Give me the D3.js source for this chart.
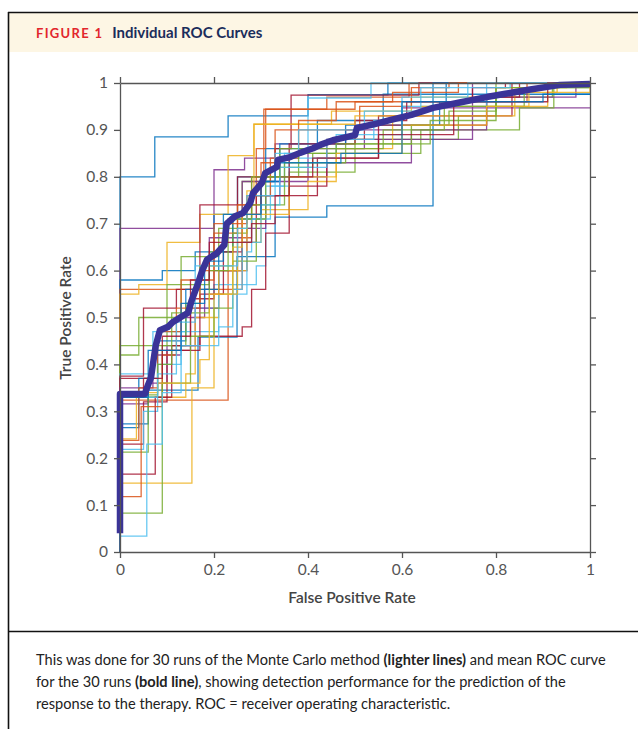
<!DOCTYPE html>
<html><head><meta charset="utf-8">
<script src="https://cdn.jsdelivr.net/npm/d3@7"></script>
<style>
html,body{margin:0;padding:0;background:#fff;}
svg{display:block;}
</style></head>
<body>
<svg id="chart" width="638" height="729"></svg>
<script>
// ---------- DATA ----------
const title = "Individual ROC Curves";
const figLabel = "FIGURE 1";
const xLabel = "False Positive Rate";
const yLabel = "True Positive Rate";
const xTicks = [0, 0.2, 0.4, 0.6, 0.8, 1];
const yTicks = [0, 0.1, 0.2, 0.3, 0.4, 0.5, 0.6, 0.7, 0.8, 0.9, 1];
const runColors = ["#0072BD","#7E2F8E","#0072BD","#D95319","#EDB120","#77AC30","#77AC30","#4DBEEE","#A2142F","#A2142F",
  "#7E2F8E","#D95319","#7E2F8E","#0072BD","#0072BD","#EDB120","#D95319","#A2142F","#4DBEEE","#77AC30",
  "#A2142F","#EDB120","#D95319","#77AC30","#4DBEEE","#77AC30","#EDB120","#4DBEEE","#A2142F","#0072BD"];
// each run: [fpr, tpr] points where TPR steps up
const runs = [
 [[0,0.80],[0.074,0.885],[0.23,0.93],[0.40,0.975],[0.57,1],[1,1]],
 [[0,0.69],[0.20,0.815],[0.265,0.84],[0.33,0.87],[0.48,0.90],[0.60,0.947],[1,0.947]],
 [[0,0.58],[0.09,0.60],[0.16,0.64],[0.20,0.72],[0.25,0.80],[0.31,0.86],[0.42,0.92],[0.56,0.976],[1,0.976]],
 [[0,0.56],[0.23,0.60],[0.25,0.74],[0.29,0.86],[0.31,0.944],[0.44,0.97],[0.615,1],[1,1]],
 [[0,0.55],[0.04,0.57],[0.10,0.66],[0.17,0.72],[0.23,0.845],[0.285,0.912],[0.45,0.94],[0.62,0.97],[0.80,0.99],[0.92,1],[1,1]],
 [[0,0.44],[0.10,0.57],[0.19,0.64],[0.24,0.72],[0.26,0.79],[0.32,0.82],[0.41,0.85],[0.64,0.90],[0.85,0.947],[0.923,1],[1,1]],
 [[0,0.42],[0.04,0.50],[0.13,0.63],[0.21,0.69],[0.28,0.76],[0.36,0.81],[0.50,0.88],[0.72,0.93],[0.80,0.97],[0.92,1],[1,1]],
 [[0,0.38],[0.07,0.47],[0.14,0.52],[0.20,0.57],[0.29,0.61],[0.31,0.78],[0.35,0.85],[0.40,0.968],[0.534,1],[1,1]],
 [[0,0.375],[0.05,0.52],[0.12,0.56],[0.17,0.74],[0.25,0.80],[0.33,0.86],[0.364,0.974],[0.636,1],[1,1]],
 [[0,0.37],[0.07,0.43],[0.15,0.54],[0.20,0.60],[0.26,0.66],[0.29,0.76],[0.42,0.84],[0.55,0.93],[0.834,1],[1,1]],
 [[0,0.35],[0.07,0.42],[0.13,0.50],[0.18,0.56],[0.19,0.67],[0.26,0.79],[0.40,0.86],[0.52,0.88],[0.75,1],[1,1]],
 [[0,0.324],[0.23,0.56],[0.26,0.67],[0.28,0.80],[0.306,0.944],[0.50,0.96],[0.866,1],[1,1]],
 [[0,0.316],[0.06,0.36],[0.10,0.44],[0.16,0.52],[0.21,0.60],[0.27,0.69],[0.31,0.76],[0.34,0.80],[0.44,0.83],[0.62,0.90],[0.78,0.97],[0.97,1],[1,1]],
 [[0,0.273],[0.06,0.345],[0.166,0.458],[0.249,0.63],[0.33,0.714],[0.44,0.738],[0.666,1],[1,1]],
 [[0,0.265],[0.04,0.37],[0.08,0.45],[0.14,0.56],[0.21,0.64],[0.24,0.71],[0.30,0.79],[0.34,0.87],[0.48,0.91],[0.68,0.96],[0.694,1],[1,1]],
 [[0,0.241],[0.035,0.33],[0.14,0.38],[0.16,0.50],[0.21,0.60],[0.27,0.66],[0.30,0.73],[0.40,0.79],[0.46,0.86],[0.58,0.93],[0.84,0.98],[0.93,1],[1,1]],
 [[0,0.238],[0.04,0.35],[0.08,0.47],[0.13,0.58],[0.20,0.68],[0.25,0.74],[0.30,0.83],[0.33,0.90],[0.51,0.95],[0.62,0.99],[0.70,1],[1,1]],
 [[0,0.23],[0.05,0.32],[0.10,0.43],[0.17,0.46],[0.26,0.48],[0.28,0.56],[0.31,0.68],[0.36,0.78],[0.44,0.88],[0.52,0.91],[0.78,0.97],[0.85,1],[1,1]],
 [[0,0.219],[0.05,0.30],[0.08,0.40],[0.13,0.47],[0.21,0.55],[0.27,0.64],[0.28,0.71],[0.32,0.78],[0.36,0.84],[0.46,0.89],[0.60,0.95],[0.78,1],[1,1]],
 [[0,0.213],[0.06,0.33],[0.09,0.44],[0.14,0.53],[0.17,0.61],[0.24,0.68],[0.27,0.74],[0.35,0.83],[0.48,0.87],[0.66,0.92],[0.80,1],[1,1]],
 [[0,0.166],[0.075,0.33],[0.11,0.44],[0.17,0.55],[0.22,0.64],[0.26,0.72],[0.30,0.80],[0.36,0.87],[0.50,0.92],[0.61,0.96],[0.75,0.99],[0.82,1],[1,1]],
 [[0,0.147],[0.153,0.35],[0.20,0.55],[0.25,0.66],[0.27,0.77],[0.285,0.912],[0.50,0.93],[0.64,0.95],[0.87,0.99],[0.95,1],[1,1]],
 [[0,0.118],[0.045,0.31],[0.09,0.42],[0.12,0.52],[0.17,0.60],[0.20,0.70],[0.27,0.76],[0.32,0.84],[0.38,0.92],[0.46,0.96],[0.58,0.98],[0.72,1],[1,1]],
 [[0,0.083],[0.09,0.36],[0.15,0.46],[0.20,0.52],[0.24,0.62],[0.29,0.71],[0.31,0.80],[0.38,0.85],[0.46,0.87],[0.62,0.91],[0.70,0.94],[0.80,0.99],[1,1]],
 [[0,0.034],[0.057,0.23],[0.09,0.34],[0.13,0.44],[0.21,0.48],[0.24,0.56],[0.26,0.66],[0.30,0.74],[0.34,0.82],[0.44,0.88],[0.54,0.92],[0.60,0.97],[0.74,1],[1,1]],
 [[0,0.335],[0.08,0.40],[0.11,0.51],[0.19,0.60],[0.23,0.71],[0.28,0.80],[0.34,0.86],[0.56,0.90],[0.69,0.95],[0.86,0.99],[1,1]],
 [[0,0.34],[0.08,0.36],[0.17,0.41],[0.19,0.55],[0.24,0.65],[0.26,0.72],[0.36,0.80],[0.46,0.85],[0.60,0.91],[0.78,0.95],[0.91,0.98],[1,1]],
 [[0,0.33],[0.08,0.38],[0.12,0.49],[0.16,0.61],[0.25,0.69],[0.27,0.76],[0.33,0.85],[0.38,0.90],[0.52,0.94],[0.64,0.99],[0.83,1],[1,1]],
 [[0,0.33],[0.05,0.37],[0.09,0.46],[0.15,0.58],[0.19,0.66],[0.28,0.70],[0.33,0.76],[0.36,0.80],[0.41,0.84],[0.55,0.89],[0.71,0.96],[0.91,1],[1,1]],
 [[0,0.33],[0.06,0.43],[0.13,0.53],[0.18,0.62],[0.22,0.72],[0.30,0.79],[0.33,0.83],[0.47,0.85],[0.60,0.96],[0.90,0.976],[1,0.976]]
];
const meanCurve = [[0,0.04],[0,0.337],[0.053,0.337],[0.058,0.352],[0.066,0.372],[0.07,0.40],[0.076,0.44],[0.085,0.473],[0.102,0.48],
 [0.112,0.49],[0.128,0.50],[0.145,0.51],[0.152,0.535],[0.166,0.573],[0.175,0.60],[0.185,0.623],[0.206,0.637],[0.222,0.655],
 [0.227,0.70],[0.245,0.716],[0.262,0.723],[0.277,0.744],[0.283,0.765],[0.302,0.787],[0.309,0.808],[0.334,0.821],[0.336,0.836],
 [0.362,0.842],[0.383,0.851],[0.411,0.861],[0.426,0.868],[0.453,0.878],[0.474,0.883],[0.50,0.889],[0.504,0.904],[0.54,0.912],
 [0.574,0.921],[0.62,0.932],[0.666,0.947],[0.72,0.958],[0.78,0.97],[0.82,0.977],[0.866,0.985],[0.936,0.996],[1,0.998]];
const caption = [
 [["This was done for 30 runs of the Monte Carlo method ",false],["(lighter lines)",true],[" and mean ROC curve",false]],
 [["for the 30 runs ",false],["(bold line)",true],[", showing detection performance for the prediction of the",false]],
 [["response to the therapy. ROC = receiver operating characteristic.",false]]
];

// ---------- LAYOUT ----------
const svg = d3.select("#chart");
const font = "Lato, 'Open Sans', sans-serif";

// header
svg.append("rect").attr("x",9).attr("y",13).attr("width",629).attr("height",39).attr("fill","#fdf6e4");
svg.append("line").attr("x1",8).attr("x2",638).attr("y1",12.5).attr("y2",12.5).attr("stroke","#111").attr("stroke-width",1.6);
svg.append("line").attr("x1",8.5).attr("x2",8.5).attr("y1",12).attr("y2",729).attr("stroke","#111").attr("stroke-width",1.6);
svg.append("line").attr("x1",8).attr("x2",638).attr("y1",631.5).attr("y2",631.5).attr("stroke","#111").attr("stroke-width",1.6);

const ht = svg.append("text").attr("x",36).attr("y",38).attr("font-family",font).attr("font-weight","bold");
ht.append("tspan").attr("fill","#e2262c").attr("font-size",13).attr("letter-spacing",1.3).text(figLabel);
ht.append("tspan").attr("dx",9).attr("fill","#1b2d5b").attr("font-size",15).text(title);

// plot
const x = d3.scaleLinear().domain([0,1]).range([120,590]);
const y = d3.scaleLinear().domain([0,1]).range([552,83]);
const axisColor = "#555";

const g = svg.append("g");
const line = d3.line().x(d=>x(d[0])).y(d=>y(d[1])).curve(d3.curveStepAfter);

runs.forEach((r,i)=>{
  g.append("path").datum([[0,0],...r]).attr("d",line).attr("fill","none")
   .attr("stroke",runColors[i]).attr("stroke-width",1.3).attr("stroke-opacity",0.85);
});

const meanLine = d3.line().x(d=>x(d[0])).y(d=>y(d[1]));
g.append("path").datum(meanCurve).attr("d",meanLine).attr("fill","none")
  .attr("stroke","#3a3398").attr("stroke-width",6.5).attr("stroke-linejoin","round");

// axes (box with outward ticks)
function styleAxis(sel){
  sel.select(".domain").attr("stroke",axisColor).attr("stroke-width",1.3);
  sel.selectAll(".tick line").attr("stroke",axisColor).attr("stroke-width",1.3);
  sel.selectAll(".tick text").attr("fill","#555").attr("font-family",font).attr("font-size",15.5);
}
const fmt = d=> d===0?"0":d===1?"1":String(d);
svg.append("g").attr("transform","translate(0,552)")
  .call(d3.axisBottom(x).tickValues(xTicks).tickFormat(fmt).tickSize(6).tickPadding(6).tickSizeOuter(0)).call(styleAxis);
svg.append("g").attr("transform","translate(0,83)")
  .call(d3.axisTop(x).tickValues(xTicks).tickFormat("").tickSize(6).tickSizeOuter(0)).call(styleAxis);
svg.append("g").attr("transform","translate(120,0)")
  .call(d3.axisLeft(y).tickValues(yTicks).tickFormat(fmt).tickSize(6).tickPadding(6).tickSizeOuter(0)).call(styleAxis);
svg.append("g").attr("transform","translate(590,0)")
  .call(d3.axisRight(y).tickValues(yTicks).tickFormat("").tickSize(6).tickSizeOuter(0)).call(styleAxis);

svg.append("text").attr("x",352).attr("y",603).attr("text-anchor","middle").attr("font-family",font)
  .attr("font-size",15.5).attr("font-weight","600").attr("fill","#444").text(xLabel);
svg.append("text").attr("transform","translate(71,318) rotate(-90)").attr("text-anchor","middle").attr("font-family",font)
  .attr("font-size",15.5).attr("font-weight","600").attr("fill","#444").text(yLabel);

// caption
caption.forEach((ln,i)=>{
  const t = svg.append("text").attr("x",36).attr("y",665+i*22).attr("font-family",font).attr("font-size",14.6).attr("fill","#222");
  ln.forEach(([s,b])=>t.append("tspan").attr("font-weight",b?"bold":"normal").text(s));
});
</script>
</body></html>
